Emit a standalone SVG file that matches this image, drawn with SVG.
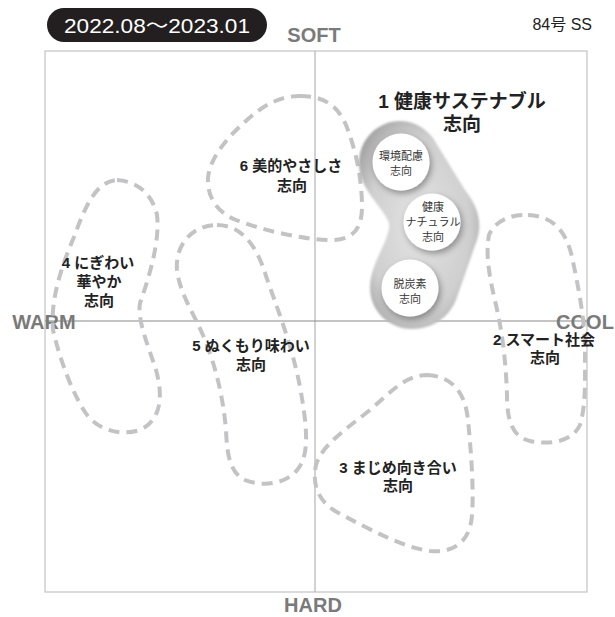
<svg xmlns="http://www.w3.org/2000/svg" width="615" height="617" viewBox="0 0 615 617">
<defs>
<style>
.frame{fill:none;stroke:#c4c4c4;stroke-width:1.2}
.vaxis{stroke:#b4b4b4;stroke-width:1.2}
.haxis{stroke:#8a8a8a;stroke-width:1.2}
.blob{fill:none;stroke:#c3c3c6;stroke-width:4;stroke-dasharray:11 7;stroke-linecap:butt;stroke-linejoin:round}
.axl{font-family:"Liberation Sans",Arial,sans-serif;font-weight:bold;font-size:20px;fill:#7a7a7a;text-anchor:middle}
.lbl{font-family:"Liberation Sans","Noto Sans CJK JP",sans-serif;font-weight:bold;font-size:15px;fill:#222;text-anchor:middle}
.big{font-family:"Liberation Sans","Noto Sans CJK JP",sans-serif;font-weight:bold;font-size:19px;fill:#222;text-anchor:middle}
.sm{font-family:"Noto Sans CJK JP",sans-serif;font-size:11px;fill:#333;text-anchor:middle}
.circ{fill:#fff;filter:url(#sh)}
</style>
<radialGradient id="hg" cx="0.5" cy="0.5" r="0.6">
<stop offset="0" stop-color="#e4e4e4"/>
<stop offset="0.7" stop-color="#cfcfcf"/>
<stop offset="1" stop-color="#a4a4a4"/>
</radialGradient>
<filter id="sh" x="-30%" y="-30%" width="160%" height="160%">
<feDropShadow dx="2" dy="3" stdDeviation="3" flood-color="#000" flood-opacity="0.35"/>
</filter>
<filter id="soft" x="-20%" y="-20%" width="140%" height="140%">
<feGaussianBlur stdDeviation="1"/>
</filter>
</defs>
<rect width="615" height="617" fill="#fff"/>

<g id="axes">
<rect class="frame" x="45" y="51" width="542" height="541"/>
<line class="vaxis" x1="315" y1="51" x2="315" y2="592"/>
<line class="haxis" x1="45" y1="321" x2="587" y2="321"/>
</g>

<g id="header">
<rect x="47" y="8" width="220" height="34" rx="17" fill="#231f20"/>
<text x="157" y="33" font-family="'Liberation Sans','Noto Sans CJK JP',sans-serif" font-size="20" fill="#fff" text-anchor="middle" textLength="186" lengthAdjust="spacingAndGlyphs">2022.08〜2023.01</text>
<text x="592" y="30" font-family="'Liberation Sans','Noto Sans CJK JP',sans-serif" font-size="16" fill="#222" text-anchor="end">84号 SS</text>
</g>

<g id="axis-labels">
<text class="axl" x="314" y="42">SOFT</text>
<text class="axl" x="313" y="612" font-size="19">HARD</text>
<text class="axl" x="44" y="329" font-size="21">WARM</text>
<text class="axl" x="585" y="329" font-size="21">COOL</text>
</g>

<g id="n4">
<path class="blob" d="M117,180 C135,181 152,192 157,215 C160,240 150,275 140,303 C137,320 148,345 156,370 C163,395 162,420 140,430 C118,437 95,428 85,412 C72,392 60,360 53,330 C50,300 62,265 74,237 C84,210 95,181 117,180 Z"/>
<text class="lbl" x="98" y="268">4 にぎわい</text>
<text class="lbl" x="99" y="287">華やか</text>
<text class="lbl" x="99" y="306">志向</text>
</g>

<g id="n6">
<path class="blob" d="M300,96 C322,96 337,104 346,125 C356,150 362,180 362,207 C362,232 350,241 328,240 C300,239 262,230 236,220 C216,212 207,196 208,178 C210,156 230,135 248,119 C264,105 280,96 300,96 Z"/>
<text class="lbl" x="291" y="171">6 美的やさしさ</text>
<text class="lbl" x="292" y="191">志向</text>
</g>

<g id="n5">
<path class="blob" d="M217,225 C240,225 256,243 266,276 C276,305 292,345 300,387 C306,420 310,450 300,466 C290,483 265,488 245,480 C230,473 227,455 226,430 C223,395 215,365 205,340 C195,315 180,295 177,270 C175,245 192,225 217,225 Z"/>
<text class="lbl" x="251" y="351">5 ぬくもり味わい</text>
<text class="lbl" x="251" y="370">志向</text>
</g>

<g id="n3">
<path class="blob" d="M427,375 C450,376 465,390 468,420 C471,450 474,490 472,515 C470,545 450,553 430,551 C405,548 370,530 335,511 C318,500 312,485 316,465 C322,445 345,430 370,410 C390,393 405,375 427,375 Z"/>
<text class="lbl" x="398" y="473">3 まじめ向き合い</text>
<text class="lbl" x="398" y="491">志向</text>
</g>

<g id="n2">
<path class="blob" d="M528,215 C552,216 566,230 572,257 C578,285 585,320 585,350 C585,380 586,405 580,425 C572,442 550,445 530,441 C512,437 507,420 507,395 C506,365 503,335 496,305 C490,280 485,255 489,235 C494,222 510,214 528,215 Z"/>
<text class="lbl" x="544" y="345">2 スマート社会</text>
<text class="lbl" x="545" y="363">志向</text>
</g>

<g id="n1">
<path fill="url(#hg)" filter="url(#soft)" d="M400,121 C378,121 359,139 359,163 C359,190 382,205 389,223 C391,240 370,262 370,288 C370,311 389,329 412,329 C433,329 449,317 456,300 L477,240 C483,222 477,205 465,190 L433,138 C425,128 414,121 400,121 Z"/>
<circle class="circ" cx="401" cy="162" r="28.5"/>
<circle class="circ" cx="432" cy="222" r="28.5"/>
<circle class="circ" cx="410" cy="288" r="28.5"/>
<text class="big" x="462" y="108">1 健康サステナブル</text>
<text class="big" x="462" y="131">志向</text>
<text class="sm" x="401" y="160">環境配慮</text>
<text class="sm" x="401" y="175">志向</text>
<text class="sm" x="433" y="211">健康</text>
<text class="sm" x="433" y="226">ナチュラル</text>
<text class="sm" x="433" y="241">志向</text>
<text class="sm" x="410" y="288">脱炭素</text>
<text class="sm" x="410" y="303">志向</text>
</g>
</svg>
